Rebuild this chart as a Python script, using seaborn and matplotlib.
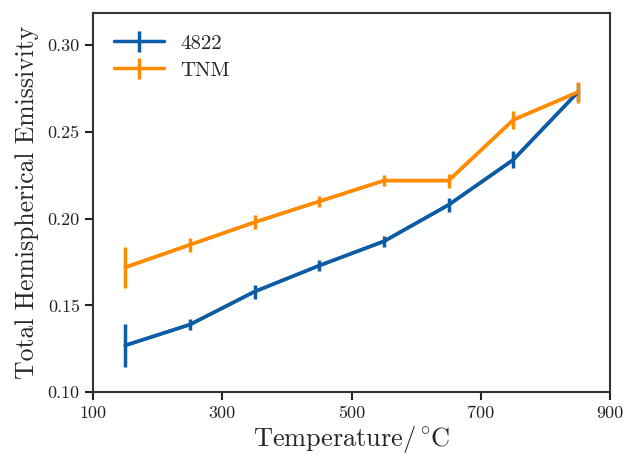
import seaborn as sns
import pandas as pd
import matplotlib.pyplot as plt
import numpy as np

temps = [150, 250, 350, 450, 550, 650, 750, 850]

e4822 = [0.127, 0.139, 0.158, 0.173, 0.187, 0.208, 0.234, 0.273]
e4822_err = [0.0125, 0.003, 0.004, 0.003, 0.003, 0.004, 0.005, 0.005]

tnm = [0.172, 0.185, 0.198, 0.210, 0.222, 0.222, 0.257, 0.273]
tnm_err = [0.012, 0.004, 0.004, 0.003, 0.003, 0.004, 0.005, 0.006]

xticks = [100, 300, 500, 700, 900]
yticks = [0.10, 0.15, 0.20, 0.25, 0.30]

sns.set_style("ticks")
plt.rcParams["font.family"] = ["cmr10", "DejaVu Serif"]
plt.rcParams["mathtext.fontset"] = "cm"
plt.rcParams["axes.formatter.use_mathtext"] = True

fig, ax = plt.subplots(figsize=(6.24, 4.55), dpi=100)
fig.subplots_adjust(left=0.149, right=0.978, bottom=0.138, top=0.971)

colors = {"4822": "#0C5DA5", "TNM": "#FF8C00"}

for name, vals, errs in [("4822", e4822, e4822_err), ("TNM", tnm, tnm_err)]:
    df = pd.DataFrame({"T": temps, "E": vals})
    sns.lineplot(ax=ax, data=df, x="T", y="E", color=colors[name], lw=2.5, legend=False)
    ax.errorbar(temps, vals, yerr=errs, color=colors[name], lw=2.5, elinewidth=2.5,
                capsize=0, label=name)

ax.set_xlim(100, 900)
ax.set_ylim(0.10, 0.3185)
ax.set_xticks(xticks)
ax.set_xticklabels([str(t) for t in xticks])
ax.set_yticks(yticks)
ax.set_yticklabels([f"{t:.2f}" for t in yticks])
ax.tick_params(direction="out", length=6, width=1.5, labelsize=13, colors="#222222")
for s in ax.spines.values():
    s.set_linewidth(1.5)
    s.set_color("#333333")

ax.set_xlabel("Temperature/$^\\circ\\!$C", fontsize=19, labelpad=2)
ax.set_ylabel("Total Hemispherical Emissivity", fontsize=18.5, labelpad=6)

ax.legend(loc="upper left", frameon=False, fontsize=15, handlelength=2.4,
          borderaxespad=0.6, labelspacing=0.4)

fig.savefig("out.png", dpi=100)
